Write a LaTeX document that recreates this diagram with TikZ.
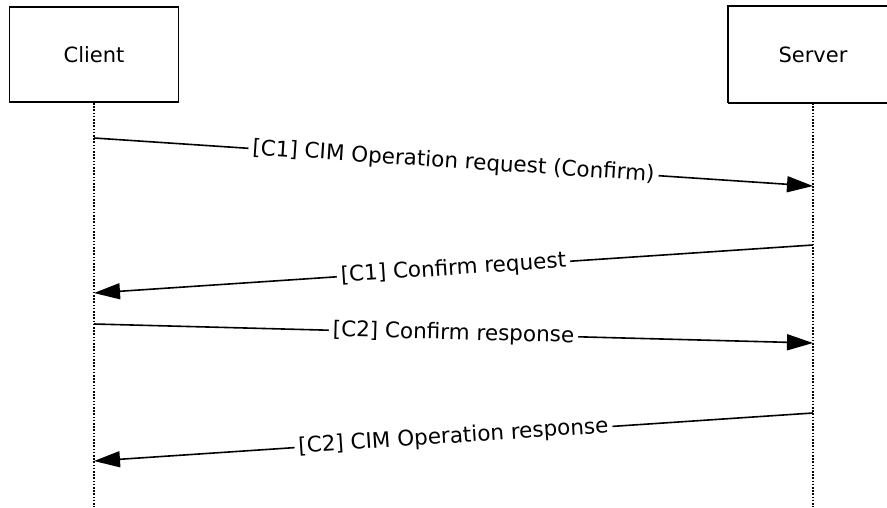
\documentclass[tikz,border=0pt]{standalone}
\usepackage{fontspec}
\setmainfont{DejaVu Sans}
\usetikzlibrary{arrows.meta}
\begin{document}
\begin{tikzpicture}[x=1pt,y=-1pt,
  actor/.style={line width=1.8pt,minimum width=169pt,minimum height=95pt,font=\fontsize{21}{24}\selectfont},
  boxline/.style={line width=1.8pt},
  life/.style={dash pattern=on 1.6pt off 1.6pt,line width=1.6pt},
  msg/.style={line width=1.6pt,-{Triangle[length=26pt,width=16pt]}},
  lbl/.style={fill=white,inner xsep=4pt,inner ysep=2pt,sloped,font=\fontsize{21.5}{24}\selectfont}]
\useasboundingbox (0,0) rectangle (887,507);
\clip (0,0) rectangle (887,507);
\node[actor,draw] (client) at (94,54.5) {Client};
\node[actor] (server) at (813,54.5) {Server};
\draw[boxline] (server.south west) -- (server.south east) -- ([xshift=30pt]server.south east);
\draw[boxline] (server.south west) -- (server.north west) -- ([xshift=30pt]server.north east);
\coordinate (cb) at (94,507);
\coordinate (sb) at (813,507);
\draw[life] (client.south) -- (cb);
\draw[life] (server.south) -- (sb);
\coordinate (c1) at (94,138); \coordinate (s1) at (813,186);
\coordinate (s2) at (813,245); \coordinate (c2) at (94,293);
\coordinate (c3) at (94,324); \coordinate (s3) at (813,343);
\coordinate (s4) at (813,413); \coordinate (c4) at (94,461);
\draw[msg] (c1) -- node[lbl] {[C1] CIM Operation request (Confirm)} (s1);
\draw[msg] (s2) -- node[lbl] {[C1] Confirm request} (c2);
\draw[msg] (c3) -- node[lbl] {[C2] Confirm response} (s3);
\draw[msg] (s4) -- node[lbl] {[C2] CIM Operation response} (c4);
\end{tikzpicture}
\end{document}
